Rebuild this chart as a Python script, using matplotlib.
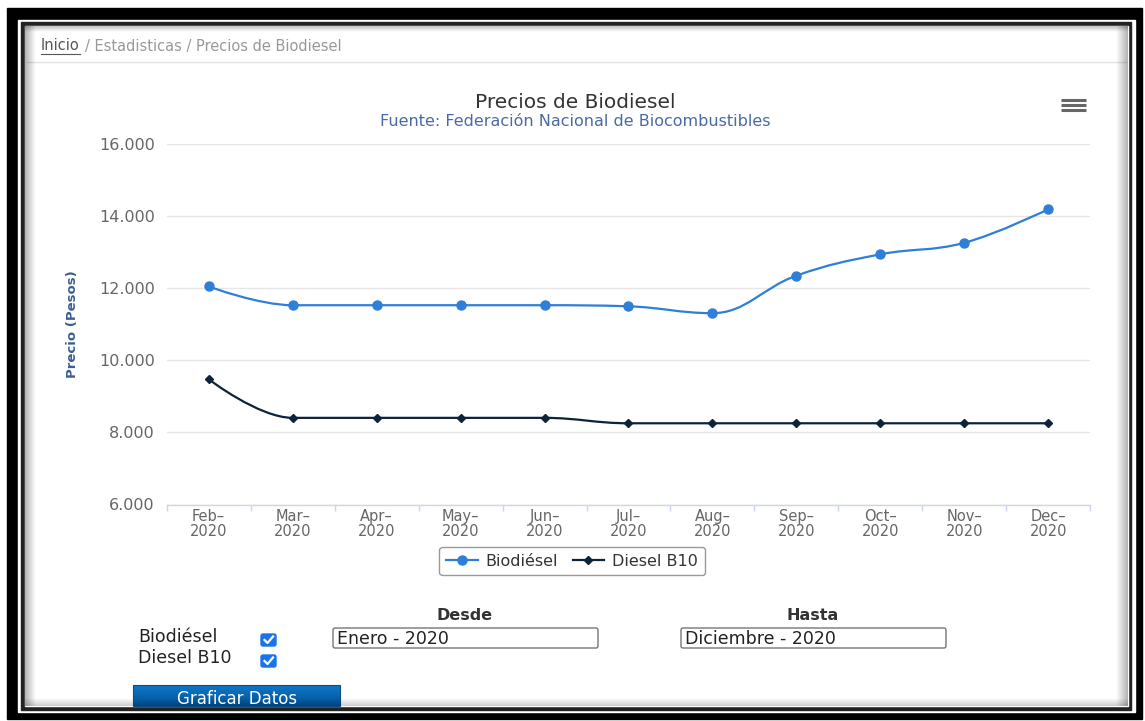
import matplotlib
matplotlib.use("Agg")
import matplotlib.pyplot as plt
import numpy as np
from matplotlib.lines import Line2D
from matplotlib.patches import FancyBboxPatch, PathPatch, Rectangle
from matplotlib.path import Path
from matplotlib.ticker import FuncFormatter, MultipleLocator

# data
months = ["Feb", "Mar", "Apr", "May", "Jun", "Jul", "Aug", "Sep", "Oct", "Nov", "Dec"]
year = "2020"
biodiesel = [12040, 11520, 11520, 11520, 11520, 11490, 11300, 12340, 12930, 13250, 14180]
diesel_b10 = [9470, 8400, 8400, 8400, 8400, 8250, 8250, 8250, 8250, 8250, 8250]
y_ticks = [6000, 8000, 10000, 12000, 14000, 16000]

BLUE = "#2f7ed8"
NAVY = "#0d233a"
W, H = 1145, 721


def spline_path(xs, ys):
    # same control points as a highcharts "spline" series
    n = len(xs)
    left = [None] * n
    right = [None] * n
    for i in range(1, n - 1):
        px, py = xs[i], ys[i]
        lx, ly = xs[i - 1], ys[i - 1]
        nx, ny = xs[i + 1], ys[i + 1]
        lcx, lcy = (1.5 * px + lx) / 2.5, (1.5 * py + ly) / 2.5
        rcx, rcy = (1.5 * px + nx) / 2.5, (1.5 * py + ny) / 2.5
        if rcx != lcx:
            corr = (rcy - lcy) * (rcx - px) / (rcx - lcx) + py - rcy
            lcy += corr
            rcy += corr
        if lcy > ly and lcy > py:
            lcy = max(ly, py)
            rcy = 2 * py - lcy
        elif lcy < ly and lcy < py:
            lcy = min(ly, py)
            rcy = 2 * py - lcy
        if rcy > ny and rcy > py:
            rcy = max(ny, py)
            lcy = 2 * py - rcy
        elif rcy < ny and rcy < py:
            rcy = min(ny, py)
            lcy = 2 * py - rcy
        left[i] = (lcx, lcy)
        right[i] = (rcx, rcy)
    verts = [(xs[0], ys[0])]
    codes = [Path.MOVETO]
    for i in range(1, n):
        verts += [right[i - 1] or (xs[i - 1], ys[i - 1]), left[i] or (xs[i], ys[i]), (xs[i], ys[i])]
        codes += [Path.CURVE4] * 3
    return Path(verts, codes)


fig = plt.figure(figsize=(W / 100, H / 100), dpi=100)
fig.patch.set_facecolor("white")
renderer = fig.canvas.get_renderer()

# page chrome, drawn in pixel coordinates
bg = fig.add_axes([0, 0, 1, 1])
bg.set_xlim(0, W)
bg.set_ylim(H, 0)
bg.axis("off")
bg.set_zorder(0)

bg.add_patch(Rectangle((7, 8), 1135, 711, color="black"))
bg.add_patch(Rectangle((18, 20), 1117, 692, color="white"))
bg.add_patch(Rectangle((21, 22), 1110, 688, color="#222222"))
bg.add_patch(Rectangle((25, 26), 1103, 680, color="white"))


def shade(x0, x1, y0, y1, horizontal, reverse, a=0.3):
    n = 32
    ramp = np.linspace(a, 0, n)
    if reverse:
        ramp = ramp[::-1]
    img = np.zeros((1, n, 4)) if horizontal else np.zeros((n, 1, 4))
    img[..., 3] = ramp.reshape(img.shape[:2])
    bg.imshow(img, extent=[x0, x1, y1, y0], aspect="auto", interpolation="bilinear", zorder=5)


shade(25, 36, 26, 706, True, False)
shade(1116, 1128, 26, 706, True, True)
shade(25, 1128, 26, 32, False, False, 0.25)
shade(25, 1128, 698, 706, False, True, 0.2)

# breadcrumb
home = bg.text(41, 46, "Inicio", fontsize=10.5, color="#555555", va="center", ha="left")
home_w = home.get_window_extent(renderer=renderer).width
bg.plot([41, 41 + home_w], [53.5, 53.5], color="#555555", lw=0.8)
bg.text(41 + home_w + 5, 46, "/ Estadisticas / Precios de Biodiesel", fontsize=10.5,
        color="#999999", va="center", ha="left")
bg.plot([27, 1126], [62, 62], color="#e2e2e2", lw=1)

# chart title, subtitle and menu icon
bg.text(575, 102, "Precios de Biodiesel", fontsize=14.5, color="#333333", ha="center", va="center")
bg.text(575, 121, "Fuente: Federación Nacional de Biocombustibles", fontsize=11.5,
        color="#4a6aa5", ha="center", va="center")
for yy in (100, 105, 110):
    bg.plot([1061, 1086], [yy, yy], color="#666666", lw=2.2, solid_capstyle="butt")

# form under the chart
form_font = {"fontsize": 12.5, "color": "#222222"}
bg.text(138, 637, "Biodiésel", va="center", ha="left", **form_font)
bg.text(138, 658, "Diesel B10", va="center", ha="left", **form_font)
for cy in (640, 661):
    bg.add_patch(FancyBboxPatch((261, cy - 6), 15, 12, boxstyle="round,pad=0,rounding_size=2",
                                facecolor="#1a73e8", edgecolor="#1a73e8"))
    bg.plot([264.5, 267.5, 273], [cy, cy + 3, cy - 3.5], color="white", lw=1.6)

bg.text(465, 616, "Desde", ha="center", va="center", fontsize=11.5, fontweight="bold", color="#333333")
bg.text(813, 616, "Hasta", ha="center", va="center", fontsize=11.5, fontweight="bold", color="#333333")
for x0, label in ((333, "Enero - 2020"), (681, "Diciembre - 2020")):
    bg.add_patch(FancyBboxPatch((x0, 628), 265, 20, boxstyle="round,pad=0,rounding_size=2",
                                facecolor="white", edgecolor="#767676", lw=1))
    bg.text(x0 + 4, 638.5, label, ha="left", va="center", **form_font)

grad = np.linspace(0, 1, 40).reshape(-1, 1)
top_c = np.array([0.06, 0.47, 0.78])
bot_c = np.array([0.0, 0.33, 0.60])
btn = top_c + (bot_c - top_c) * grad
bg.imshow(btn.reshape(40, 1, 3), extent=[133, 340, 706, 685], aspect="auto", zorder=3)
bg.add_patch(Rectangle((133, 685), 207, 21, fill=False, edgecolor="#0a4f8a", lw=0.8, zorder=4))
bg.text(237, 699, "Graficar Datos", ha="center", va="center", fontsize=12, color="white", zorder=6)

# the chart itself
ax = fig.add_axes([166.7 / W, 1 - 504.5 / H, 923.6 / W, 361 / H])
ax.set_zorder(2)
ax.patch.set_alpha(0)
x = np.arange(len(months))

ax.add_patch(PathPatch(spline_path(x, biodiesel), facecolor="none", edgecolor=BLUE, lw=1.6, zorder=3))
ax.add_patch(PathPatch(spline_path(x, diesel_b10), facecolor="none", edgecolor=NAVY, lw=1.6, zorder=3))
ax.plot(x, biodiesel, linestyle="none", marker="o", ms=6.5, color=BLUE, zorder=4)
ax.plot(x, diesel_b10, linestyle="none", marker="D", ms=4.2, color=NAVY, zorder=4)

ax.set_xlim(-0.5, len(months) - 0.5)
ax.set_ylim(6000, 16000)
ax.set_yticks(y_ticks)
ax.yaxis.set_major_formatter(FuncFormatter(lambda v, _: f"{v:,.0f}".replace(",", ".")))
ax.grid(axis="y", color="#e6e6e6", lw=1)
ax.set_axisbelow(True)
ax.tick_params(axis="y", length=0, pad=8.5, labelsize=11.5, labelcolor="#666666")

ax.set_xticks(x)
ax.set_xticklabels([f"{m}–\n{year}" for m in months], fontsize=10.5, color="#666666", linespacing=1.0)
ax.xaxis.set_minor_locator(MultipleLocator(1, offset=0.5))
ax.tick_params(axis="x", which="major", length=0, pad=3)
ax.tick_params(axis="x", which="minor", length=4, color="#ccd6eb", width=1)

for side in ("top", "right", "left"):
    ax.spines[side].set_visible(False)
ax.spines["bottom"].set_color("#ccd6eb")
ax.spines["bottom"].set_linewidth(1)

ax.set_ylabel("Precio (Pesos)", fontsize=9.5, fontweight="bold", color="#3b5e93")
ax.yaxis.set_label_coords(-0.095, 0.5)

handles = [
    Line2D([], [], color=BLUE, lw=1.6, marker="o", ms=6.5, label="Biodiésel"),
    Line2D([], [], color=NAVY, lw=1.6, marker="D", ms=4.2, label="Diesel B10"),
]
leg = ax.legend(handles=handles, loc="center", bbox_to_anchor=(572 / W, 1 - 561 / H),
                bbox_transform=fig.transFigure, ncol=2, fontsize=11.5, frameon=True,
                fancybox=True, edgecolor="#999999", framealpha=1, handlelength=2.0,
                handletextpad=0.5, columnspacing=0.9, borderpad=0.4)
for t in leg.get_texts():
    t.set_color("#333333")

fig.savefig("out.png", dpi=100)
